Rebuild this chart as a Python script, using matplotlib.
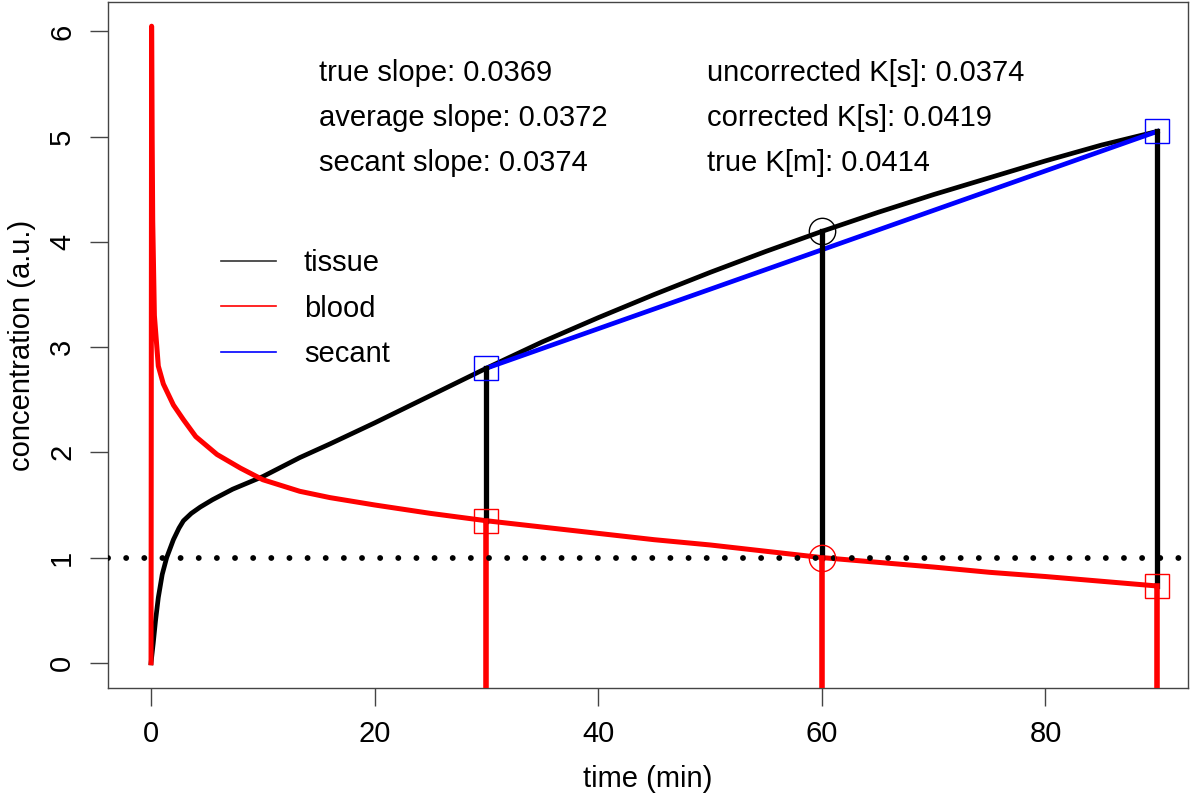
import matplotlib.pyplot as plt
import numpy as np

plt.rcParams['font.family'] = ['Liberation Sans', 'DejaVu Sans']

# tissue curve (time in min, concentration a.u.)
t_tissue = [0, 0.2, 0.4, 0.65, 1.0, 1.4, 2.0, 2.5, 2.9, 3.6, 4.4, 5.5, 7.3, 10, 13.3, 16, 20,
            25, 30, 35, 40, 45, 50, 55, 60, 65, 70, 75, 80, 85, 90]
c_tissue = [0, 0.19, 0.40, 0.62, 0.84, 1.0, 1.17, 1.28, 1.35, 1.42, 1.48, 1.55, 1.65, 1.77, 1.95, 2.08, 2.28,
            2.54, 2.80, 3.05, 3.28, 3.50, 3.71, 3.91, 4.10, 4.28, 4.45, 4.61, 4.77, 4.92, 5.05]

# blood curve
t_blood = [0, 0.05, 0.1, 0.15, 0.3, 0.65, 1.1, 2.0, 2.9, 4.0, 5.9, 8, 10, 13.3, 16, 20,
           25, 30, 40, 45, 50, 60, 70, 75, 80, 90]
c_blood = [0, 6.05, 5.0, 4.2, 3.3, 2.82, 2.65, 2.45, 2.31, 2.15, 1.98, 1.85, 1.74, 1.63, 1.57, 1.50,
           1.42, 1.35, 1.23, 1.17, 1.12, 1.0, 0.91, 0.86, 0.82, 0.73]

# sampling points
t_frames = [30, 60, 90]
tissue_frames = [2.80, 4.10, 5.05]
blood_frames = [1.35, 1.00, 0.73]

labels_left = ['true slope: 0.0369', 'average slope: 0.0372', 'secant slope: 0.0374']
labels_right = ['uncorrected K[s]: 0.0374', 'corrected K[s]: 0.0419', 'true K[m]: 0.0414']

fs = 21
axis_grey = '#444444'

fig = plt.figure(figsize=(12, 8.01), dpi=100)
ax = fig.add_axes([0.09, 0.141, 0.9, 0.8565])

ax.plot(t_tissue, c_tissue, color='black', lw=3.4, zorder=3, solid_joinstyle='round')
ax.plot(t_blood, c_blood, color='red', lw=3.6, zorder=3, solid_joinstyle='round')
ax.plot([t_frames[0], t_frames[2]], [tissue_frames[0], tissue_frames[2]], color='blue', lw=3.4, zorder=4)

for t, b, c in zip(t_frames, blood_frames, tissue_frames):
    ax.plot([t, t], [b, c], color='black', lw=3.8, zorder=5)
    ax.plot([t, t], [-1, b], color='red', lw=4, zorder=5)

ax.axhline(1, color='black', lw=4.2, linestyle=(0, (0.01, 3.1)), dash_capstyle='round', zorder=6)

ax.plot(t_frames[0], tissue_frames[0], 's', ms=17, mfc='none', mec='blue', mew=1, zorder=7)
ax.plot(t_frames[2], tissue_frames[2], 's', ms=17, mfc='none', mec='blue', mew=1, zorder=7)
ax.plot(t_frames[0], blood_frames[0], 's', ms=17, mfc='none', mec='red', mew=1, zorder=7)
ax.plot(t_frames[2], blood_frames[2], 's', ms=17, mfc='none', mec='red', mew=1, zorder=7)
ax.plot(t_frames[1], tissue_frames[1], 'o', ms=19, mfc='none', mec='black', mew=1, zorder=7)
ax.plot(t_frames[1], blood_frames[1], 'o', ms=19, mfc='none', mec='red', mew=1, zorder=7)

for i, (a, b) in enumerate(zip(labels_left, labels_right)):
    y = 5.61 - i * 0.428
    ax.text(15, y, a, fontsize=fs, va='center', ha='left')
    ax.text(49.7, y, b, fontsize=fs, va='center', ha='left')

h1, = ax.plot([], [], color='#333333', lw=1.2)
h2, = ax.plot([], [], color='red', lw=1.2)
h3, = ax.plot([], [], color='blue', lw=1.2)
ax.legend([h1, h2, h3], ['tissue', 'blood', 'secant'], loc='upper left',
          bbox_to_anchor=(0.08, 0.678), frameon=False, fontsize=fs,
          handlelength=1.9, handletextpad=0.95, labelspacing=0.6)

ax.set_xlim(-3.85, 92.75)
ax.set_ylim(-0.24, 6.28)
ax.set_xticks([0, 20, 40, 60, 80])
ax.set_yticks([0, 1, 2, 3, 4, 5, 6])
ax.set_yticklabels(['0', '1', '2', '3', '4', '5', '6'], rotation=90, va='center')
ax.tick_params(direction='out', length=13, width=1, labelsize=fs, pad=10, color=axis_grey)
ax.set_xlabel('time (min)', fontsize=fs, labelpad=12)
ax.set_ylabel('concentration (a.u.)', fontsize=fs, labelpad=9)
for s in ax.spines.values():
    s.set_linewidth(1)
    s.set_color(axis_grey)

fig.savefig('out.png', dpi=100)
